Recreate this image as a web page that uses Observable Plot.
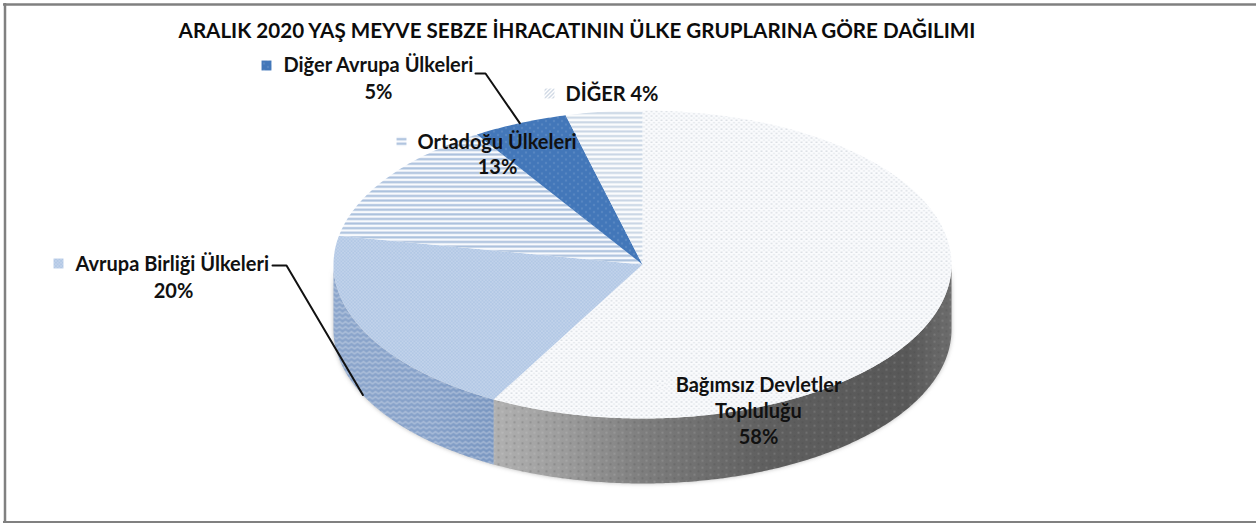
<!DOCTYPE html>
<html lang="tr">
<head>
<meta charset="utf-8">
<script src="https://cdn.jsdelivr.net/npm/d3@7"></script>
<script src="https://cdn.jsdelivr.net/npm/@observablehq/plot@0.6"></script>
<style>
html,body{margin:0;padding:0;background:#fff;overflow:hidden}
svg.plot-root{display:block}
</style>
</head>
<body>
<svg width="0" height="0" style="position:absolute">
  <defs>
    <pattern id="pBdt" width="5" height="4.4" patternUnits="userSpaceOnUse">
      <rect width="5" height="4.4" fill="#fafbfd"/>
      <circle cx="1" cy="1" r=".8" fill="#cfd4db"/>
      <circle cx="3.5" cy="3.2" r=".8" fill="#dde1e6"/>
    </pattern>
    <pattern id="pAb" width="3.4" height="3.4" patternUnits="userSpaceOnUse">
      <rect width="3.4" height="3.4" fill="#b2c8e5"/>
      <circle cx=".85" cy=".85" r=".65" fill="#d8e3f2"/>
      <circle cx="2.55" cy="2.55" r=".65" fill="#d8e3f2"/>
    </pattern>
    <pattern id="pOrta" width="4.6" height="4.6" patternUnits="userSpaceOnUse">
      <rect width="4.6" height="4.6" fill="#f8fafd"/>
      <rect y="1.2" width="4.6" height="2.1" fill="#a9bfdc"/>
    </pattern>
    <pattern id="pDa" width="8" height="7" patternUnits="userSpaceOnUse">
      <rect width="8" height="7" fill="#4377b9"/>
      <circle cx="1.5" cy="1.5" r=".7" fill="#7fa3d0"/>
      <circle cx="5.5" cy="5" r=".7" fill="#7fa3d0"/>
    </pattern>
    <pattern id="pDiger" width="4.6" height="4.6" patternUnits="userSpaceOnUse">
      <rect width="4.6" height="4.6" fill="#fbfcfd"/>
      <rect y="1.2" width="4.6" height="2" fill="#c8d5e4"/>
    </pattern>
    <pattern id="pKeyDiger" width="4" height="4" patternUnits="userSpaceOnUse">
      <rect width="4" height="4" fill="#fff"/>
      <path d="M0 4L4 0" stroke="#a3b4cb" stroke-width="1"/>
    </pattern>
    <pattern id="pDotsOver" width="8" height="7" patternUnits="userSpaceOnUse">
      <circle cx="2" cy="1.8" r="1" fill="#3b3b3b" fill-opacity=".28"/>
      <circle cx="6" cy="5.2" r="1" fill="#ffffff" fill-opacity=".16"/>
    </pattern>
    <pattern id="pChevOver" width="6" height="5" patternUnits="userSpaceOnUse">
      <path d="M0 3.5L3 1L6 3.5" fill="none" stroke="#ffffff" stroke-opacity=".38" stroke-width="1.1"/>
    </pattern>
    <linearGradient id="gBdt" gradientUnits="userSpaceOnUse" x1="490" y1="0" x2="952" y2="0">
      <stop offset="0" stop-color="#b2b2b2"/>
      <stop offset=".16" stop-color="#9c9c9c"/>
      <stop offset=".33" stop-color="#7e7e7e"/>
      <stop offset=".6" stop-color="#5f5f5f"/>
      <stop offset=".9" stop-color="#585858"/>
      <stop offset="1" stop-color="#6d6d6d"/>
    </linearGradient>
    <linearGradient id="gAb" gradientUnits="userSpaceOnUse" x1="333" y1="0" x2="492" y2="0">
      <stop offset="0" stop-color="#8ba5cb"/>
      <stop offset=".6" stop-color="#86a1c9"/>
      <stop offset="1" stop-color="#7a97c1"/>
    </linearGradient>
  </defs>
</svg>
<script>
// Values (percent shares), clockwise from 12 o'clock
const categories = ["Bağımsız Devletler Topluluğu", "Avrupa Birliği Ülkeleri", "Ortadoğu Ülkeleri", "Diğer Avrupa Ülkeleri", "DİĞER"];
const shares = [58, 20, 13, 5, 4];
const titleText = "ARALIK 2020 YAŞ MEYVE SEBZE İHRACATININ ÜLKE GRUPLARINA GÖRE DAĞILIMI";
const patterns = ["pBdt", "pAb", "pOrta", "pDa", "pDiger"];

// Layout of the projected disc on the page
const W = 1256, H = 523, CX = 642, CY = 264, RX = 309, RY = 154, DEPTH = 65;
const depthU = DEPTH / RY;
const ux = (px) => (px - CX) / RX;
const uy = (py) => (py - CY) / RY;
const FONT = "Lato, 'Open Sans', sans-serif";
const SIZE = 20;

// angles from shares
const total = d3.sum(shares);
let acc = 0;
const slices = categories.map((name, i) => {
  const a0 = acc / total * 2 * Math.PI;
  acc += shares[i];
  return {name, share: shares[i], a0, a1: acc / total * 2 * Math.PI, pattern: patterns[i]};
});
const onRim = (a, drop = 0) => ({x: Math.sin(a), y: -Math.cos(a) + drop});
const arc = (a0, a1, drop = 0) => {
  const n = Math.max(2, Math.ceil(Math.abs(a1 - a0) / 0.01));
  return d3.range(n + 1).map(i => onRim(a0 + (a1 - a0) * i / n, drop));
};
const wedge = s => [{x: 0, y: 0}, ...arc(s.a0, s.a1), {x: 0, y: 0}];
const side = (a0, a1) => [...arc(a0, a1), ...arc(a1, a0, depthU)];
const fillShape = (pts, fill, extra = {}) =>
  Plot.line(pts, {x: "x", y: "y", fill, stroke: "none", curve: "linear", ...extra});

const bdt = slices[0], ab = slices[1], orta = slices[2], da = slices[3];
const front = side(Math.PI / 2, bdt.a1);
const frontAb = side(ab.a0, 1.5 * Math.PI);

// Leader lines end at the slice mid-angle on the rim
const midA = s => (s.a0 + s.a1) / 2;
const leaderDa = [{x: ux(475), y: uy(73)}, {x: ux(485), y: uy(73)}, onRim(midA(da))];
const leaderAb = [{x: ux(272), y: uy(265)}, {x: ux(286), y: uy(265)}, onRim(midA(ab), depthU)];

const labelRows = [
  {t: categories[3], x: 283, y: 65, a: "start"},
  {t: shares[3] + "%", x: 378, y: 92, a: "middle"},
  {t: categories[4] + " " + shares[4] + "%", x: 565, y: 94, a: "start"},
  {t: categories[2], x: 417, y: 142, a: "start"},
  {t: shares[2] + "%", x: 497, y: 167, a: "middle"},
  {t: categories[1], x: 75, y: 264, a: "start"},
  {t: shares[1] + "%", x: 173, y: 291, a: "middle"},
  {t: "Bağımsız Devletler", x: 758, y: 385, a: "middle"},
  {t: "Topluluğu", x: 758, y: 411, a: "middle"},
  {t: shares[0] + "%", x: 758, y: 437, a: "middle"}
];
const keys = [
  {x: 266, y: 65, f: "pDa"},
  {x: 58, y: 263, f: "pAb"},
  {x: 401, y: 141, f: "pOrta"},
  {x: 549, y: 93, f: "pKeyDiger"},
  {x: 661, y: 384, f: "pBdt"}
];

const chart = Plot.plot({
  width: W, height: H,
  marginTop: 0, marginRight: 0, marginBottom: 0, marginLeft: 0,
  style: {background: "#fff", overflow: "visible"},
  x: {domain: [-1, 1], range: [CX - RX, CX + RX], axis: null, clamp: false},
  y: {domain: [-1, 1], range: [CY - RY, CY + RY], axis: null, clamp: false},
  marks: [
    // page frame: left, top and bottom only
    Plot.ruleX([ux(4.5)], {stroke: "#808080", strokeWidth: 2.5, y1: uy(3), y2: uy(523)}),
    Plot.ruleY([uy(4)], {stroke: "#808080", strokeWidth: 2.5, x1: ux(3), x2: ux(1256)}),
    Plot.ruleY([uy(521.5)], {stroke: "#808080", strokeWidth: 2, x1: ux(3), x2: ux(1256)}),
    // soft shadow under the disc
    fillShape(side(Math.PI / 2, 1.5 * Math.PI), "#555", {imageFilter: "blur(2px)", fillOpacity: 0.4}),
    // side walls
    fillShape(front, "url(#gBdt)"),
    fillShape(front, "url(#pDotsOver)"),
    fillShape(frontAb, "url(#gAb)"),
    fillShape(frontAb, "url(#pChevOver)"),
    // top face
    ...slices.map(s => fillShape(wedge(s), `url(#${s.pattern})`)),
    // leaders
    Plot.line(leaderDa, {x: "x", y: "y", stroke: "#111", strokeWidth: 2, curve: "linear"}),
    Plot.line(leaderAb, {x: "x", y: "y", stroke: "#111", strokeWidth: 2, curve: "linear"}),
    // legend keys
    ...keys.map(k => Plot.dot([k], {x: d => ux(d.x), y: d => uy(d.y), symbol: "square", r: 5.6, fill: `url(#${k.f})`, stroke: "none"})),
    // labels
    ...["start", "middle"].map(anchor => Plot.text(labelRows.filter(d => d.a === anchor), {
      x: d => ux(d.x), y: d => uy(d.y), text: "t", textAnchor: anchor,
      fontFamily: FONT, fontWeight: 700, fontSize: SIZE, fill: "#111"
    })),
    // title
    Plot.text([titleText], {
      x: ux(576.5), y: uy(31), text: d => d, textAnchor: "middle",
      fontFamily: FONT, fontWeight: 700, fontSize: 20.6, fill: "#0c0c0c"
    })
  ]
});
document.body.appendChild(chart);
</script>
</body>
</html>
